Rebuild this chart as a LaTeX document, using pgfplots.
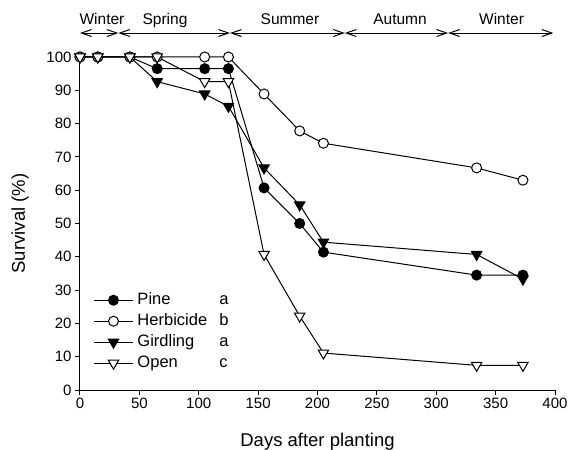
\documentclass[border=0pt]{standalone}
\usepackage{fontspec}
\setmainfont{Liberation Sans}
\usepackage{pgfplots}
\pgfplotsset{compat=1.18}
\usetikzlibrary{arrows.meta}

\begin{document}
\begin{tikzpicture}
\path[use as bounding box] (-80bp,-60bp) rectangle (489bp,390bp);
\begin{axis}[
  at={(0,0)}, anchor=origin,
  x=1.1875bp, y=3.33bp,
  xmin=0, xmax=400, ymin=0, ymax=100,
  axis lines*=left,
  axis line style={line width=1bp, black},
  tick align=outside, major tick length=5bp,
  tick style={line width=1bp, black},
  xtick={0,50,...,400}, ytick={0,10,...,100},
  /pgf/number format/assume math mode=true,
  tick label style={font=\fontsize{15bp}{18bp}\selectfont},
  xlabel={Days after planting}, ylabel={Survival (\%)},
  every axis x label/.style={at={(axis description cs:0.5,0)}, yshift=-52bp, anchor=center, font=\fontsize{18.5bp}{22bp}\selectfont},
  every axis y label/.style={at={(axis description cs:0,0.5)}, xshift=-60bp, anchor=center, rotate=90, font=\fontsize{18.5bp}{22bp}\selectfont},
  clip=false,
  legend cell align=left,
  legend style={draw=none, fill=none, inner sep=0pt, at={(0.028,0.2965)}, anchor=north west,
    font=\fontsize{16.5bp}{19bp}\selectfont,
    nodes={inner ysep=1bp, inner xsep=4bp, text height=12bp, text depth=3.5bp},
    /tikz/every even column/.append style={column sep=3bp},
    row sep=3.5bp},
  legend image code/.code={\draw[mark repeat=2,mark phase=2,#1] plot coordinates {(0bp,0bp) (19.5bp,0bp) (39bp,0bp)};},
  every axis plot/.append style={line width=1bp, black},
]
\addplot[mark=*, mark size=5bp, mark options={fill=black, solid}] coordinates {
(0,100)(15,100)(42,100)(65,96.5)(105,96.5)(125,96.5)(155,60.7)(185,50)(205,41.4)(334,34.5)(373,34.5)};
\addlegendentry{\makebox[82bp][l]{Pine}a}
\addplot[mark=*, mark size=5bp, mark options={fill=white, solid}] coordinates {
(0,100)(15,100)(42,100)(65,100)(105,100)(125,100)(155,88.9)(185,77.8)(205,74.1)(334,66.7)(373,63.0)};
\addlegendentry{\makebox[82bp][l]{Herbicide}b}
\addplot[mark=triangle*, mark size=6bp, mark options={fill=black, rotate=180, solid}] coordinates {
(0,100)(15,100)(42,100)(65,92.6)(105,88.9)(125,85.2)(155,66.7)(185,55.6)(205,44.4)(334,40.7)(373,33.3)};
\addlegendentry{\makebox[82bp][l]{Girdling}a}
\addplot[mark=triangle*, mark size=6bp, mark options={fill=white, rotate=180, solid}] coordinates {
(0,100)(15,100)(42,100)(65,100)(105,92.6)(125,92.6)(155,40.7)(185,22.2)(205,11.1)(334,7.4)(373,7.4)};
\addlegendentry{\makebox[82bp][l]{Open}c}

% season bar
\draw[line width=1bp, {Straight Barb[length=10bp,width=7bp]}-{Straight Barb[length=10bp,width=7bp]}] (axis cs:0,107.2) -- (axis cs:32.3,107.2);
\draw[line width=1bp, {Straight Barb[length=10bp,width=7bp]}-{Straight Barb[length=10bp,width=7bp]}] (axis cs:32.3,107.2) -- (axis cs:126.3,107.2);
\draw[line width=1bp, {Straight Barb[length=10bp,width=7bp]}-{Straight Barb[length=10bp,width=7bp]}] (axis cs:126.3,107.2) -- (axis cs:223,107.2);
\draw[line width=1bp, {Straight Barb[length=10bp,width=7bp]}-{Straight Barb[length=10bp,width=7bp]}] (axis cs:223,107.2) -- (axis cs:310,107.2);
\draw[line width=1bp, {Straight Barb[length=10bp,width=7bp]}-{Straight Barb[length=10bp,width=7bp]}] (axis cs:310,107.2) -- (axis cs:398.6,107.2);
\begin{scope}[every node/.style={anchor=base, font=\fontsize{15.5bp}{18bp}\selectfont, inner sep=0pt}]
\node at (axis cs:18.5,109.9) {Winter};
\node at (axis cs:71.6,109.9) {Spring};
\node at (axis cs:176.8,109.9) {Summer};
\node at (axis cs:269.5,109.9) {Autumn};
\node at (axis cs:355,109.9) {Winter};
\end{scope}
\end{axis}
\end{tikzpicture}
\end{document}
